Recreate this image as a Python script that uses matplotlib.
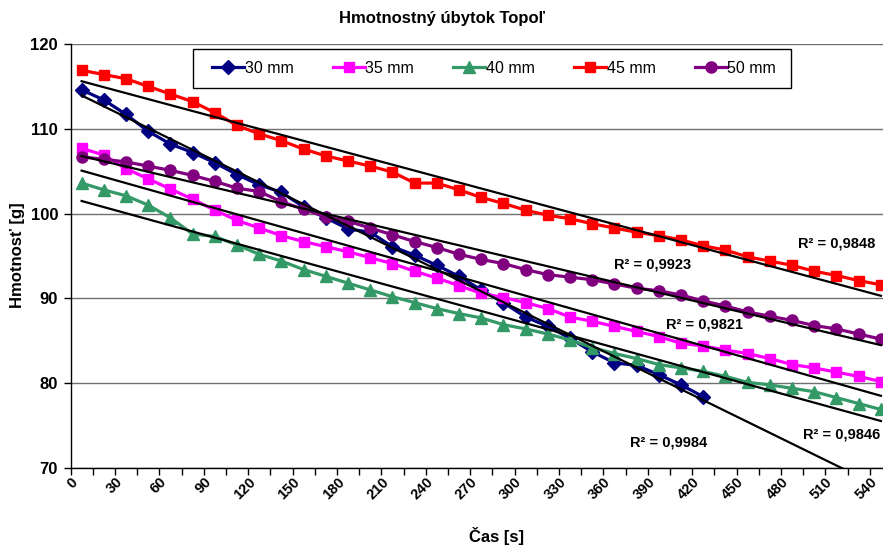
import matplotlib
matplotlib.use('Agg')
import matplotlib.pyplot as plt
import matplotlib.transforms as mtransforms
from matplotlib.patches import Rectangle
import numpy as np

# ---- data ----
times = list(range(0, 541, 15))            # categories (s)
tick_labels = [str(t) for t in times[::2]]  # shown every second category

s30 = [114.6, 113.4, 111.7, 109.7, 108.2, 107.2, 106.0, 104.6, 103.4, 102.5,
       100.8, 99.5, 98.2, 97.8, 96.1, 95.1, 93.9, 92.6, 91.0, 89.5,
       87.8, 86.7, 85.3, 83.7, 82.4, 82.1, 81.0, 79.8, 78.4]
s35 = [107.7, 106.9, 105.3, 104.1, 102.9, 101.7, 100.4, 99.2, 98.3, 97.4,
       96.7, 96.1, 95.5, 94.8, 94.1, 93.2, 92.4, 91.5, 90.6, 90.1,
       89.5, 88.8, 87.8, 87.3, 86.7, 86.1, 85.5, 84.7, 84.4, 83.9,
       83.5, 82.9, 82.2, 81.8, 81.3, 80.8, 80.2]
s40 = [103.6, 102.8, 102.1, 101.0, 99.5, 97.6, 97.3, 96.3, 95.2, 94.4,
       93.4, 92.6, 91.8, 91.0, 90.2, 89.5, 88.8, 88.2, 87.7, 86.9,
       86.4, 85.8, 85.1, 84.2, 83.5, 82.9, 82.2, 81.8, 81.4, 80.8,
       80.1, 79.8, 79.4, 79.0, 78.3, 77.6, 76.9]
s45 = [116.9, 116.4, 115.9, 115.0, 114.1, 113.2, 111.9, 110.4, 109.4, 108.6,
       107.6, 106.8, 106.2, 105.6, 104.9, 103.6, 103.6, 102.8, 101.9, 101.2,
       100.4, 99.8, 99.4, 98.8, 98.3, 97.8, 97.4, 96.9, 96.2, 95.7,
       94.9, 94.4, 93.9, 93.2, 92.7, 92.1, 91.6]
s50 = [106.7, 106.4, 106.1, 105.6, 105.1, 104.5, 103.8, 103.0, 102.6, 101.4,
       100.5, 99.6, 99.1, 98.3, 97.5, 96.7, 96.0, 95.2, 94.6, 94.1,
       93.4, 92.8, 92.5, 92.2, 91.7, 91.2, 90.9, 90.4, 89.7, 89.1,
       88.4, 87.9, 87.4, 86.8, 86.4, 85.8, 85.2]

series_names = ['30 mm', '35 mm', '40 mm', '45 mm', '50 mm']
r2_labels = ['R\u00b2 = 0,9984', 'R\u00b2 = 0,9821', 'R\u00b2 = 0,9846',
             'R\u00b2 = 0,9848', 'R\u00b2 = 0,9923']

# ---- style ----
plt.rcParams['font.family'] = ['Liberation Sans', 'DejaVu Sans']
colors = ['#000080', '#FF00FF', '#339966', '#FF0000', '#800080']
markers = ['D', 's', '^', 's', 'o']
msizes = [7.5, 7, 8, 7, 8]
r2_pos = [(24.7, 73.0), (26.3, 86.9), (32.5, 74.0), (32.25, 96.5), (24.0, 94.05)]

W, H = 883, 546
fig = plt.figure(figsize=(W / 100, H / 100), dpi=100)
left_px, right_px, top_px, bot_px = 70.5, 892.0, 44.0, 468.0
ax = fig.add_axes([left_px / W, 1 - bot_px / H, (right_px - left_px) / W,
                   (bot_px - top_px) / H])

n = len(times)
all_series = [s30, s35, s40, s45, s50]
handles = []
for vals, name, c, m, ms in zip(all_series, series_names, colors, markers, msizes):
    x = np.arange(len(vals))
    h, = ax.plot(x, vals, color=c, marker=m, markersize=ms, lw=2.3,
                 markeredgecolor=c, label=name, zorder=3, clip_on=False)
    handles.append(h)

for vals in all_series:
    x = np.arange(len(vals))
    k, q = np.polyfit(x, vals, 1)
    xx = np.array([0, n - 1])
    ax.plot(xx, k * xx + q, color='black', lw=1.6, zorder=4)

for lab, (px, py) in zip(r2_labels, r2_pos):
    ax.text(px, py, lab, fontsize=10.5, fontweight='bold', ha='left',
            va='center', zorder=5)

ax.set_xlim(-0.5, n - 0.5)
ax.set_ylim(70, 120)
ax.set_yticks(np.arange(70, 121, 10))
ax.set_yticklabels([str(v) for v in range(70, 121, 10)], fontsize=12,
                   fontweight='bold')
ax.yaxis.grid(True, color='#707070', lw=1)
ax.set_axisbelow(True)

# x axis: tick marks at category boundaries, labels every 2nd category
ax.set_xticks(np.arange(-0.5, n, 1))
ax.set_xticklabels([])
ax.tick_params(axis='x', length=5, width=1, color='black')
ax.tick_params(axis='y', length=5, width=1, color='black', pad=4)
lab_tr = ax.get_xaxis_transform() + mtransforms.ScaledTranslation(
    -6 / 100, -12 / 100, fig.dpi_scale_trans)
for pos, lab in zip(np.arange(0, n, 2), tick_labels):
    ax.text(pos, 0, lab, transform=lab_tr, fontsize=10.5, fontweight='bold',
            rotation=45, ha='right', va='center', rotation_mode='anchor',
            clip_on=False)

for s in ['top', 'right']:
    ax.spines[s].set_visible(False)
for s in ['left', 'bottom']:
    ax.spines[s].set_color('black')
    ax.spines[s].set_linewidth(1)

fig.text(442 / W, 1 - 19 / H, 'Hmotnostný úbytok Topoľ', ha='center',
         va='center', fontsize=12, fontweight='bold')
fig.text(18 / W, 1 - 255 / H, 'Hmotnosť [g]', ha='center', va='center',
         rotation=90, fontsize=12, fontweight='bold')
fig.text(497 / W, 1 - 536 / H, 'Čas [s]', ha='center', va='center',
         fontsize=12, fontweight='bold')

# legend box
fig.patches.append(Rectangle((193 / W, 1 - 88 / H), (791 - 193) / W, 39 / H,
                             transform=fig.transFigure, facecolor='white',
                             edgecolor='black', lw=1, zorder=5))
leg = fig.legend(handles=handles, loc='center left',
                 bbox_to_anchor=(212 / W, 1 - 68.5 / H), ncol=5, frameon=False,
                 fontsize=11.5, handlelength=2.0, columnspacing=2.45,
                 handletextpad=0.05, borderpad=0, borderaxespad=0)
leg.set_zorder(6)

fig.savefig('out.png', dpi=100)
